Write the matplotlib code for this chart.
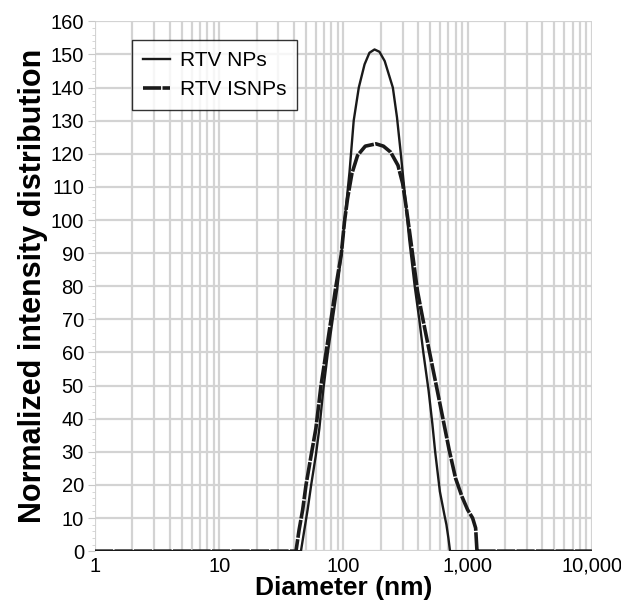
import matplotlib
matplotlib.use("Agg")
import matplotlib.pyplot as plt
from matplotlib.ticker import (FixedLocator, LogLocator, NullFormatter,
                               FixedFormatter, MultipleLocator)

plt.rcParams["font.family"] = ["Liberation Sans", "DejaVu Sans"]

# RTV NPs (diameter nm, normalized intensity)
np_d = [1, 45.5, 48.5, 51.5, 55, 60, 64, 69, 75, 82, 89, 96, 102, 112, 121, 133, 148,
        162, 178, 195, 215, 250, 270, 288, 310, 339, 375, 408, 440, 485, 520, 548,
        598, 650, 675, 700, 722, 10000]
np_v = [0, 0, 6.5, 12.5, 20, 29, 37, 49, 60, 70, 79, 89.5, 99.5, 114.5, 130, 140, 147,
        150.5, 151.5, 150.8, 148, 140, 131, 121, 109, 94, 80, 70, 60, 48.5, 38.5, 30,
        18, 11, 8, 4, 0, 0]

# RTV ISNPs
is_d = [1, 41.5, 44, 47, 50, 55, 60, 66, 72.5, 79.5, 87, 96, 102, 108, 117, 130, 150,
        183, 210, 240, 275, 300, 320, 345, 395, 434, 491, 556, 629, 711, 800, 900,
        1000, 1097, 1160, 1190, 10000]
is_v = [0, 0, 6.5, 12.5, 20, 29, 37, 50, 60, 70, 80, 89.5, 99.5, 106.5, 114, 119.5, 122.3,
        123, 122.3, 120.5, 116.5, 111, 104, 95, 78.5, 70.5, 60.5, 50.5, 40.5, 30.5, 22, 16.5,
        12.5, 10, 7, 0, 0]

x_ticks = [1, 10, 100, 1000, 10000]
x_labels = ["1", "10", "100", "1,000", "10,000"]
y_ticks = list(range(0, 161, 10))

fig = plt.figure(figsize=(6.21, 6.09), dpi=100)
ax = fig.add_axes([0.153, 0.095, 0.80, 0.87])

ax.plot(np_d, np_v, color="#1a1a1a", lw=1.7, label="RTV NPs", zorder=3)
ax.plot(is_d, is_v, color="#1a1a1a", lw=2.6, ls=(0, (5, 0.4)), label="RTV ISNPs",
        zorder=3)

ax.set_xscale("log")
ax.set_xlim(1, 10000)
ax.set_ylim(0, 160)
ax.xaxis.set_major_locator(FixedLocator(x_ticks))
ax.xaxis.set_major_formatter(FixedFormatter(x_labels))
ax.xaxis.set_minor_locator(LogLocator(base=10, subs=range(2, 10)))
ax.xaxis.set_minor_formatter(NullFormatter())
ax.set_yticks(y_ticks)
ax.yaxis.set_minor_locator(MultipleLocator(2))

ax.grid(True, which="both", axis="x", color="#d3d3d3", lw=1.6)
ax.grid(True, which="major", axis="y", color="#d3d3d3", lw=1.6)
ax.set_axisbelow(True)
for s in ax.spines.values():
    s.set_visible(False)
ax.tick_params(axis="x", which="both", length=0, labelsize=14.5, pad=4)
ax.tick_params(axis="y", which="major", length=5, color="#c8c8c8", labelsize=14.5, pad=3)
ax.tick_params(axis="y", which="minor", length=2, color="#d0d0d0")

ax.set_xlabel("Diameter (nm)", fontsize=19, fontweight="bold", labelpad=0)
ax.set_ylabel("Normalized intensity distribution", fontsize=22, fontweight="bold",
              labelpad=2)

leg = ax.legend(loc="upper left", bbox_to_anchor=(0.075, 0.964), borderaxespad=0,
                fontsize=15, frameon=True, fancybox=False, edgecolor="black",
                handlelength=1.3, handletextpad=0.5, borderpad=0.5, labelspacing=0.5)
leg.get_frame().set_linewidth(1.0)

fig.savefig("out.png", dpi=100)
